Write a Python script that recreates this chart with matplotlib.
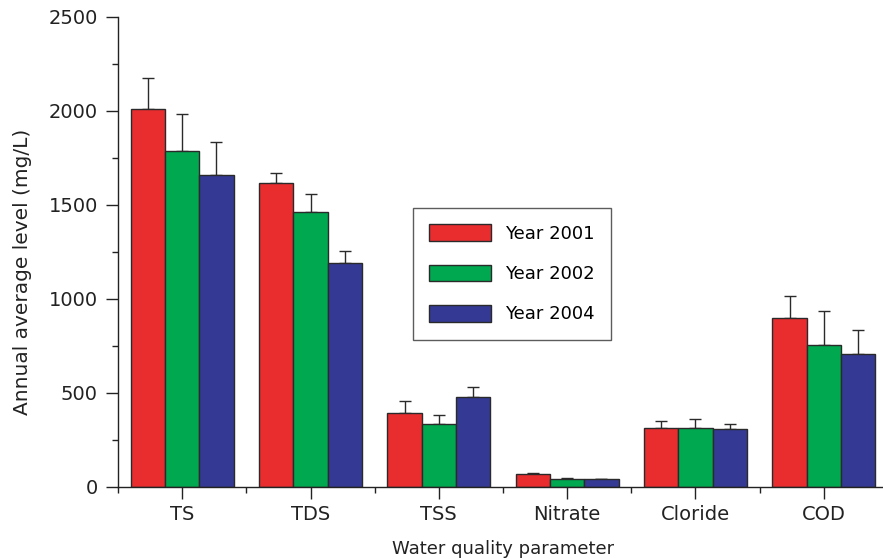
import matplotlib.pyplot as plt
import numpy as np

categories = ['TS', 'TDS', 'TSS', 'Nitrate', 'Cloride', 'COD']
years = ['Year 2001', 'Year 2002', 'Year 2004']
values_2001 = [2012, 1615, 394, 68, 314, 896]
values_2002 = [1789, 1460, 333, 41, 314, 752]
values_2004 = [1661, 1190, 480, 40, 307, 707]
err_2001 = [161, 55, 64, 7, 38, 117]
err_2002 = [196, 100, 51, 3, 48, 181]
err_2004 = [176, 65, 53, 2, 29, 125]

colors = ['#E92D2F', '#00A84F', '#343A94']

plt.rcParams['font.family'] = ['DejaVu Sans']

fig = plt.figure(figsize=(8.83, 5.59), dpi=100)
ax = fig.add_axes([118 / 883, 72.3 / 559, 770 / 883, 469.7 / 559])

x = np.arange(len(categories))
width = 0.267
series = [values_2001, values_2002, values_2004]
errors = [err_2001, err_2002, err_2004]
for i, (vals, errs) in enumerate(zip(series, errors)):
    pos = x + (i - 1) * width
    ax.bar(pos, vals, width, color=colors[i], edgecolor='#2a2a2a',
           linewidth=1.0, label=years[i], zorder=2)
    # one-sided (upper) error bars
    ax.errorbar(pos, vals, yerr=[np.zeros(len(errs)), errs], fmt='none',
                ecolor='#2a2a2a', elinewidth=1.0, capsize=4.2, capthick=1.0,
                zorder=1)

ax.set_xlim(-0.5, 5.5)
ax.set_ylim(0, 2500)
ax.set_xticks(x)
ax.set_xticklabels(categories)
ax.set_xticks(np.arange(-0.5, 6, 1), minor=True)
ax.set_yticks(np.arange(0, 2501, 500))
ax.set_yticks(np.arange(250, 2500, 500), minor=True)

for side in ['top', 'right']:
    ax.spines[side].set_visible(False)
for side in ['left', 'bottom']:
    ax.spines[side].set_linewidth(1.0)
    ax.spines[side].set_color('#222222')

ax.tick_params(axis='both', which='major', direction='out', length=8.5,
               width=1.0, labelsize=14, colors='#222222')
ax.tick_params(axis='both', which='minor', direction='out', length=4,
               width=1.0, colors='#222222')
ax.tick_params(axis='y', which='major', pad=6)
ax.tick_params(axis='x', which='major', pad=5)

ax.set_ylabel('Annual average level (mg/L)', fontsize=14.5, color='#222222')
ax.yaxis.set_label_coords(-0.112, 0.457)
ax.set_xlabel('Water quality parameter', fontsize=13, color='#222222', labelpad=11)

leg = ax.legend(loc='upper left', bbox_to_anchor=(0.383, 0.593), borderaxespad=0,
                fontsize=13, handlelength=3.4, handleheight=1.05, labelspacing=1.2,
                handletextpad=0.8, borderpad=0.9, fancybox=False, frameon=True)
leg.get_frame().set_edgecolor('#333333')
leg.get_frame().set_linewidth(1.0)

plt.savefig('out.png', dpi=100)
